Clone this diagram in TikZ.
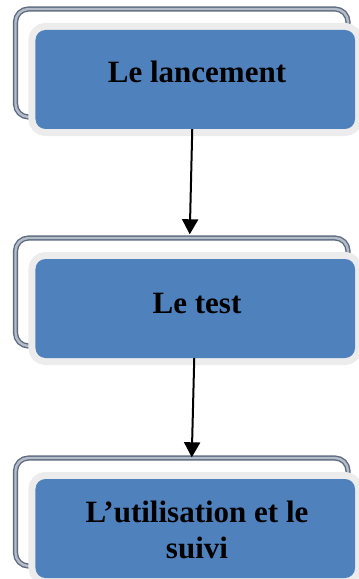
\documentclass[tikz,border=0pt]{standalone}
\usepackage{fontspec}
\setmainfont{Liberation Serif}
\usetikzlibrary{arrows.meta}
\definecolor{stepblue}{HTML}{4F81BD}
\definecolor{haloGray}{HTML}{ECECEC}
\definecolor{frameDark}{HTML}{5F6B80}
\definecolor{frameLight}{HTML}{B4BCC9}
\tikzset{
  backframe/.style={draw=frameDark, line width=1.4bp, double=frameLight,
    double distance=2.4bp, rounded corners=13bp, minimum width=332.5bp,
    minimum height=108bp, inner sep=0pt, fill=none},
  stepbox/.style={fill=stepblue, rounded corners=10bp, minimum width=319.5bp,
    minimum height=99bp, inner sep=0pt,
    preaction={draw=haloGray, line width=14bp, rounded corners=10bp}},
  steplabel/.style={font=\fontsize{31bp}{36bp}\selectfont\bfseries,
    align=center, inner sep=0pt, anchor=base},
  flow/.style={line width=2bp, -{Triangle[width=16bp,length=15bp]}}
}
\begin{document}
\begin{tikzpicture}[x=1bp,y=1bp]
\useasboundingbox (0,0) rectangle (358,-579);
% stacked outlines behind each step
\node[backframe] (f1) at (181.75,-63) {};
\node[backframe] (f2) at (181.75,-292) {};
\node[backframe] (f3) at (181.75,-512) {};
% the three steps
\node[stepbox] (b1) at (195.25,-79.5) {};
\node[stepbox] (b2) at (195.25,-308.5) {};
\node[stepbox] (b3) at (195.25,-528.5) {};
\node[steplabel] (t1) at (197,-83) {Le lancement};
\node[steplabel] (t2) at (197,-313) {Le test};
\node[steplabel] (t3a) at (197,-522) {L’utilisation et le};
\node[steplabel] (t3b) at (197,-558) {suivi};
% connectors
\draw[flow] ([xshift=-3bp]b1.south) -- ([xshift=8bp,yshift=3bp]f2.north);
\draw[flow] ([xshift=-1bp]b2.south) -- ([xshift=10bp,yshift=0bp]f3.north);
\end{tikzpicture}
\end{document}
